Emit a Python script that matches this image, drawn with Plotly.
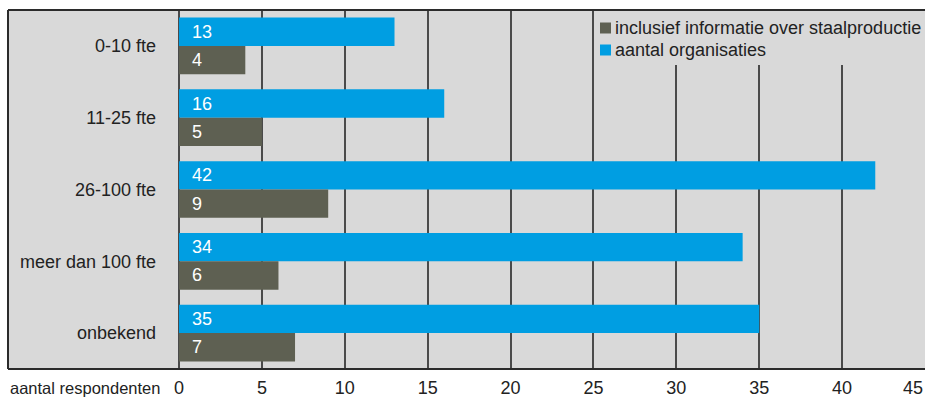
import plotly.graph_objects as go

categories = ["0-10 fte", "11-25 fte", "26-100 fte", "meer dan 100 fte", "onbekend"]
aantal_organisaties = [13, 16, 42, 34, 35]
inclusief_staal = [4, 5, 9, 6, 7]
x_ticks = [0, 5, 10, 15, 20, 25, 30, 35, 40, 45]
legend_names = ["inclusief informatie over staalproductie", "aantal organisaties"]

BLUE = "#009ee2"
DARK = "#5e6052"
BG = "#d9d9d9"
GRID = "#4a4a4a"
TXT = "#222222"
FONT = "Liberation Sans, Arial, sans-serif"
FS = 18

W, H = 925, 401
ML, MR, MT, MB = 179, 0, 10, 32
pw = W - ML - MR
ph = H - MT - MB


def px_x(px):
    return (px - ML) / pw


def px_y(py):
    return (H - MB - py) / ph


x0_paper = px_x(8)

fig = go.Figure()
fig.add_trace(go.Bar(
    y=categories, x=aantal_organisaties, orientation="h", name=legend_names[1],
    marker=dict(color=BLUE, line=dict(width=0)),
    text=aantal_organisaties, texttemplate="\u00a0\u00a0%{x}", textposition="inside",
    insidetextanchor="start", textfont=dict(color="white", size=FS, family=FONT),
))
fig.add_trace(go.Bar(
    y=categories, x=inclusief_staal, orientation="h", name=legend_names[0],
    marker=dict(color=DARK, line=dict(width=0)),
    text=inclusief_staal, texttemplate="\u00a0\u00a0%{x}", textposition="inside",
    insidetextanchor="start", textfont=dict(color="white", size=FS, family=FONT),
))

# background panel
fig.add_shape(type="rect", xref="paper", yref="paper", x0=x0_paper, x1=1.01, y0=0, y1=1,
              fillcolor=BG, line=dict(width=0), layer="below")
# borders
for (xa, ya, xb, yb) in [(x0_paper, 1, 1.01, 1), (x0_paper, 0, 1.01, 0), (x0_paper, 0, x0_paper, 1)]:
    fig.add_shape(type="line", xref="paper", yref="paper", x0=xa, y0=ya, x1=xb, y1=yb,
                  line=dict(color="#2b2b2b", width=2), layer="above")

# manual legend
fig.add_shape(type="rect", xref="paper", yref="paper", x0=px_x(598), x1=1.01,
              y0=px_y(65), y1=px_y(11), fillcolor=BG, line=dict(width=0), layer="above")
for i, (name, col) in enumerate(zip(legend_names, [DARK, BLUE])):
    cy = 28 + i * 22
    fig.add_shape(type="rect", xref="paper", yref="paper", x0=px_x(600), x1=px_x(611),
                  y0=px_y(cy + 5.5), y1=px_y(cy - 5.5), fillcolor=col, line=dict(width=0),
                  layer="above")
    fig.add_annotation(text=name, xref="paper", yref="paper", x=px_x(613), y=px_y(cy),
                       xanchor="left", yanchor="middle", showarrow=False,
                       font=dict(size=FS, color=TXT, family=FONT))

fig.add_annotation(text="aantal respondenten", xref="paper", yref="paper",
                   x=x0_paper, y=0, yshift=-19, xanchor="left", yanchor="middle",
                   showarrow=False, font=dict(size=16.5, color=TXT, family=FONT))
fig.add_annotation(text=str(x_ticks[-1]), xref="x", yref="paper",
                   x=x_ticks[-1], y=0, yshift=-19, xanchor="right", yanchor="middle",
                   showarrow=False, font=dict(size=FS, color=TXT, family=FONT))

fig.update_layout(
    width=W, height=H,
    margin=dict(l=ML, r=MR, t=MT, b=MB),
    paper_bgcolor="white", plot_bgcolor="rgba(0,0,0,0)",
    barmode="group", bargap=0.21, bargroupgap=0.0,
    font=dict(family=FONT, size=FS, color=TXT),
    showlegend=False,
    xaxis=dict(range=[0, 45], tickvals=x_ticks[:-1], showgrid=True, gridcolor=GRID, gridwidth=1.5,
               zeroline=True, zerolinecolor=GRID, zerolinewidth=1.5, showline=False,
               ticks="", ticklabelstandoff=6, tickfont=dict(size=FS, color=TXT), fixedrange=True),
    yaxis=dict(categoryorder="array", categoryarray=categories, autorange="reversed",
               showgrid=False, zeroline=False, ticks="", ticklabelstandoff=22,
               tickfont=dict(size=FS, color=TXT)),
)

fig.write_html("out.html")
